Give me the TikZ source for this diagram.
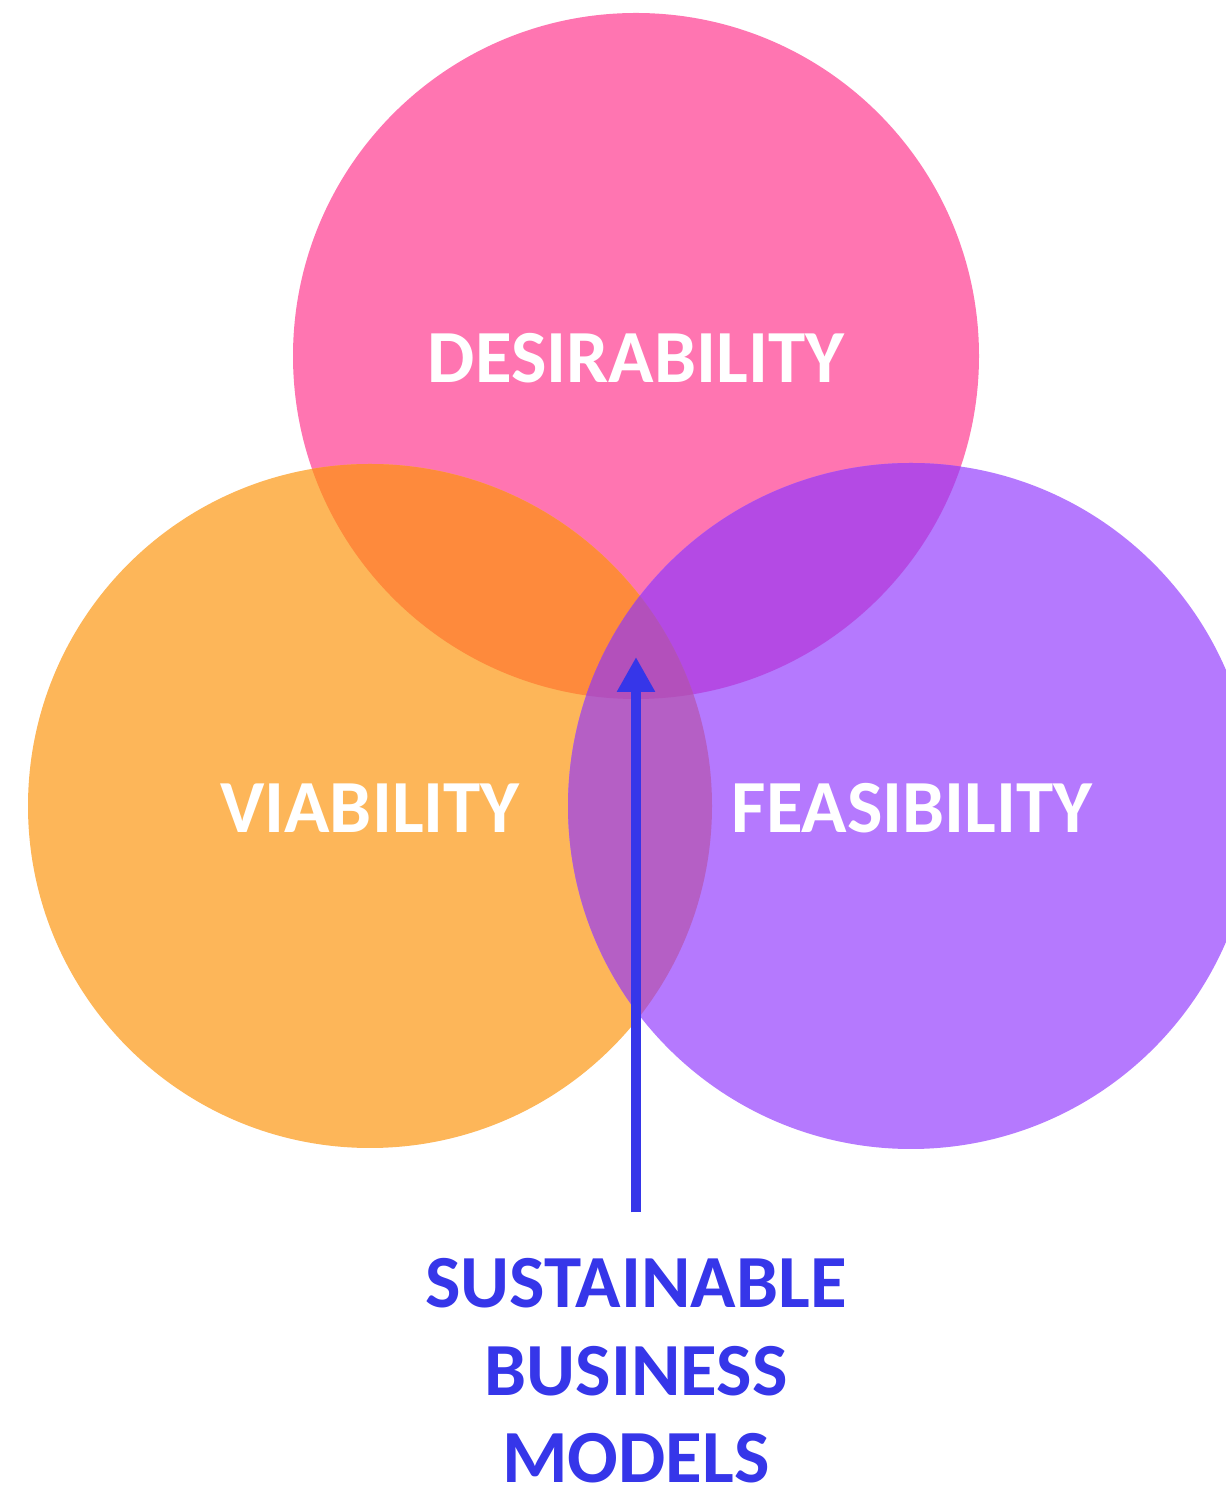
\documentclass[tikz,border=0pt]{standalone}
\usepackage{fontspec}
\setmainfont{Carlito}
\usetikzlibrary{arrows.meta, positioning}
\definecolor{desc}{HTML}{FF75B1}
\definecolor{viac}{HTML}{FDB659}
\definecolor{feac}{HTML}{B579FE}
\definecolor{desvia}{HTML}{FE8A3C}
\definecolor{desfea}{HTML}{B44AE4}
\definecolor{viafea}{HTML}{B55FC5}
\definecolor{allc}{HTML}{B350BB}
\definecolor{sbmc}{HTML}{3636E9}
\tikzset{
	x=0.5pt, y=0.5pt, % one unit is one pixel of the sketch
	label/.style={font=\fontsize{37.5}{44}\selectfont\bfseries, text=white, inner sep=0pt, anchor=base}, % white words in the circles
	sbmtext/.style={label, text=sbmc}, % blue words below
	sbmarrow/.style={-{Triangle[length=17.5pt, width=18pt]}, line width=5pt, draw=sbmc}, % the blue arrow
}
\begin{document}
\begin{tikzpicture}
	\useasboundingbox (0,0) rectangle (1226,1494);
	\coordinate (des) at (636,1138);
	\coordinate (via) at (370,688);
	\coordinate (fea) at (911,688);
	% the three circles
	\fill[desc] (des) circle (343);
	\fill[viac] (via) circle (342);
	\fill[feac] (fea) circle (343);
	% the overlaps
	\begin{scope}
		\clip (des) circle (343);
		\fill[desvia] (via) circle (342);
		\fill[desfea] (fea) circle (343);
	\end{scope}
	\begin{scope}
		\clip (via) circle (342);
		\fill[viafea] (fea) circle (343);
		\clip (fea) circle (343);
		\fill[allc] (des) circle (343);
	\end{scope}
	% words
	\node[label] (d) at (636,1111) {DESIRABILITY};
	\node[label] (v) at (370,661) {VIABILITY};
	\node[label] (f) at (912,661) {FEASIBILITY};
	\node[sbmtext] (s1) at (636,186) {SUSTAINABLE};
	\node[sbmtext] (s2) at (636,98) {BUSINESS};
	\node[sbmtext] (s3) at (636,11) {MODELS};
	\coordinate (tip) at (636,837);
	\draw[sbmarrow, shorten <=23pt] (s1.north) -- (tip);
\end{tikzpicture}
\end{document}
